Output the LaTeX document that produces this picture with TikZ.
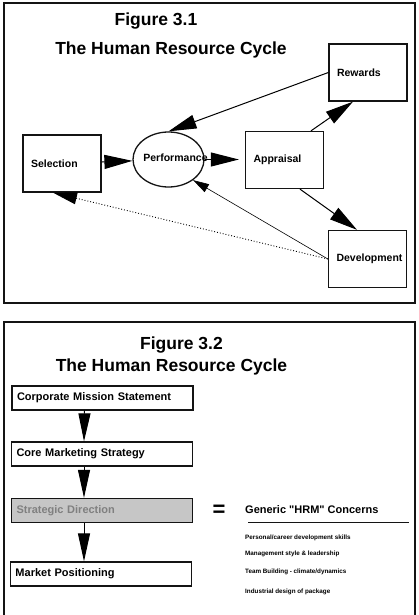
\documentclass[tikz,border=0pt]{standalone}
\usepackage{fontspec}
\setmainfont{Liberation Sans}[Ligatures=TeXOff]
\usetikzlibrary{arrows.meta, positioning, shapes.geometric}
\definecolor{CycInk}{HTML}{141414}
\definecolor{DirFill}{HTML}{C6C6C6}
\definecolor{DirInk}{HTML}{808080}

\begin{document}
\begin{tikzpicture}[
    x=1pt, y=-1pt,
    font=\bfseries,
    title/.style={
      font=\fontsize{17.5}{20}\selectfont\bfseries,
      inner sep=0pt,
    },
    cycbox/.style={
      draw=CycInk,
      line width=1.3pt,
      text width=62pt,
      inner xsep=8pt,
      minimum height=57pt,
      align=left,
      font=\fontsize{10.5}{12}\selectfont\bfseries,
    },
    stepbox/.style={
      draw=CycInk,
      line width=1.3pt,
      text width=171pt,
      inner xsep=5pt,
      minimum height=24pt,
      align=left,
      font=\fontsize{11}{13}\selectfont\bfseries,
    },
    concern/.style={
      anchor=west,
      inner sep=0pt,
      font=\fontsize{6.3}{7}\selectfont\bfseries,
    },
    bigtip/.style={line width=1pt, -{Triangle[length=28pt, width=14pt]}},
    steptip/.style={line width=1pt, -{Triangle[length=28pt, width=12pt]}},
  ]
    \useasboundingbox (0,0) rectangle (419,615);

    % Figure 3.1
    \draw[line width=1.5pt, CycInk] (4,3) rectangle (415,303);
    \node[title] (fig31) at (156,21) {Figure 3.1};
    \node[title] (cyc31) at (171,50) {The Human Resource Cycle};

    \node[cycbox] (sel) at (62,163.5) {Selection};
    \node[draw=CycInk, line width=1.3pt, ellipse, minimum width=71pt,
      minimum height=55pt, inner sep=0pt] (perf) at (168.5,159.5) {};
    \node[font=\fontsize{10.5}{12}\selectfont\bfseries] (perftext) at (175.5,158) {Performance};
    \node[cycbox] (appr) at (284.5,160) {Appraisal};
    \node[cycbox] (rew) at (368,72.5) {Rewards};
    \node[cycbox] (dev) at (367.5,259) {Development};

    \draw[bigtip] (sel) -- (perf);
    \draw[bigtip, shorten >=6pt] (perf.east) -- (perf.east -| appr.west);
    \draw[bigtip] (rew.west) -- (perf.north);
    \draw[bigtip] ([xshift=26.5pt]appr.north) -- ([xshift=-15pt]rew.south);
    \draw[bigtip] ([xshift=15.5pt]appr.south) -- ([xshift=-10.5pt]dev.north);
    \draw[line width=0.6pt, -{Triangle[length=16pt, width=9pt]}] (dev.west) -- (perf.-40);
    \draw[dotted, line width=0.9pt, -{Triangle[length=24pt, width=12pt]}] (dev.west) -- ([xshift=-9pt]sel.south);

    % Figure 3.2
    \draw[line width=1.5pt, CycInk] (4,615) -- (4,322) -- (415,322) -- (415,615);
    \node[title] (fig32) at (181.5,345) {Figure 3.2};
    \node[title] (cyc32) at (171.5,367) {The Human Resource Cycle};

    \node[stepbox] (cms) at (102.5,398) {Corporate Mission Statement};
    \node[stepbox] (cor) at (102,454) {Core Marketing Strategy};
    \node[stepbox, fill=DirFill, text=DirInk] (sd) at (102,510.5) {Strategic Direction};
    \node[stepbox] (mp) at (101,574) {Market Positioning};

    \draw[steptip] ([xshift=-18pt]cms.south) -- ([xshift=-18pt]cor.north);
    \draw[steptip] ([xshift=-18pt]cor.south) -- ([xshift=-18pt]sd.north);
    \draw[steptip] ([xshift=-18pt]sd.south) -- ([xshift=-17pt]mp.north);

    \node[font=\fontsize{22}{24}\selectfont\bfseries, inner sep=0pt] (eq) at (219,511) {=};
    \node[concern, font=\fontsize{11}{13}\selectfont\bfseries] (gen) at (245,510) {Generic "HRM" Concerns};
    \draw[line width=0.6pt, CycInk] (248,522) -- (409,522);
    \node[concern] (c1) at (245,538) {Personal/career development skills};
    \node[concern] (c2) at (245,554) {Management style \& leadership};
    \node[concern] (c3) at (245,572) {Team Building - climate/dynamics};
    \node[concern] (c4) at (245,592) {Industrial design of package};
  \end{tikzpicture}
\end{document}
